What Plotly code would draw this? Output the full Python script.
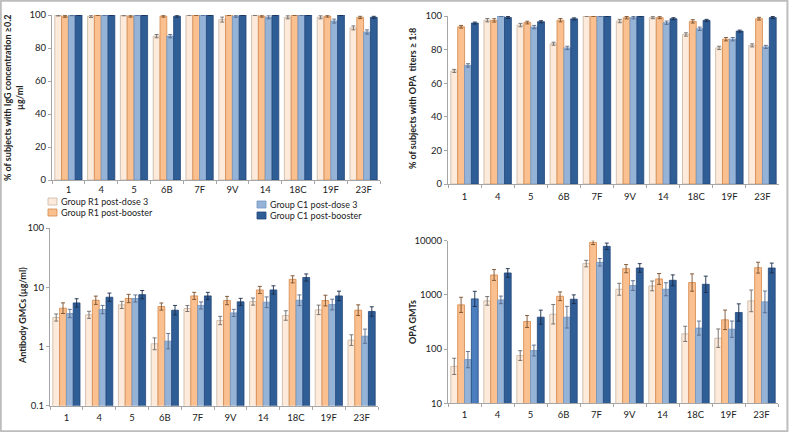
import plotly.graph_objects as go

# ---------------- data ----------------
serotypes = ["1", "4", "5", "6B", "7F", "9V", "14", "18C", "19F", "23F"]
series_names = ["Group R1 post-dose 3", "Group R1 post-booster",
                "Group C1 post-dose 3", "Group C1 post-booster"]

# % subjects with IgG >= 0.2 ug/ml
igg_r1_d3 = [99.7, 99.2, 99.8, 87.2, 100, 97.2, 100, 98.6, 98.6, 92.2]
igg_r1_bo = [99.2, 100, 99.3, 99.3, 100, 100, 99.3, 100, 99.3, 98.5]
igg_c1_d3 = [99.8, 100, 100, 87.2, 100, 99.2, 98.6, 100, 96.3, 89.7]
igg_c1_bo = [100, 100, 100, 99.3, 100, 100, 100, 100, 100, 98.6]
igg_err = [[0.3, 0.7, 0.3, 1.0, 0.2, 1.5, 0.3, 0.9, 0.9, 1.2],
           [0.6, 0.2, 0.6, 0.6, 0.2, 0.2, 0.6, 0.2, 0.6, 0.7],
           [0.2, 0.2, 0.2, 1.0, 0.2, 0.6, 0.9, 0.2, 1.2, 1.3],
           [0.2, 0.2, 0.2, 0.6, 0.2, 0.2, 0.2, 0.2, 0.2, 0.6]]

# % subjects with OPA titers >= 1:8
opa_r1_d3 = [67.3, 97.5, 94.6, 83.5, 100, 97.0, 99.0, 89.0, 81.0, 82.5]
opa_r1_bo = [93.6, 97.4, 96.1, 97.5, 100, 99.0, 99.0, 96.8, 86.2, 98.4]
opa_c1_d3 = [70.6, 100, 93.4, 81.0, 100, 99.0, 96.0, 92.4, 86.2, 81.6]
opa_c1_bo = [95.8, 99.1, 96.6, 98.3, 100, 100, 98.4, 97.4, 91.0, 99.1]
opa_err = [[0.9, 1.0, 1.0, 0.9, 0.2, 1.0, 0.6, 1.0, 1.0, 0.9],
           [0.8, 1.0, 0.8, 1.0, 0.2, 0.7, 0.6, 1.0, 1.0, 0.8],
           [1.0, 0.3, 1.0, 1.0, 0.2, 0.7, 1.0, 1.0, 1.0, 0.9],
           [0.6, 0.6, 0.6, 0.6, 0.2, 0.2, 0.6, 0.6, 0.6, 0.6]]

# Antibody GMCs (ug/ml)
gmc_r1_d3 = [3.08, 3.42, 5.03, 1.11, 4.37, 2.74, 5.73, 3.33, 4.15, 1.28]
gmc_r1_bo = [4.43, 6.03, 6.45, 4.72, 7.14, 5.96, 9.0, 13.6, 5.96, 4.1]
gmc_c1_d3 = [3.6, 4.2, 6.45, 1.23, 4.92, 3.69, 5.58, 6.03, 5.1, 1.49]
gmc_c1_bo = [5.44, 6.78, 7.5, 4.1, 7.14, 5.66, 9.0, 14.6, 7.14, 3.89]
# error half-widths in log10 units
gmc_err = [[0.06, 0.06, 0.06, 0.10, 0.05, 0.07, 0.06, 0.08, 0.08, 0.09],
           [0.09, 0.07, 0.07, 0.06, 0.06, 0.07, 0.06, 0.06, 0.09, 0.09],
           [0.07, 0.07, 0.06, 0.13, 0.06, 0.06, 0.09, 0.09, 0.09, 0.12],
           [0.07, 0.07, 0.07, 0.08, 0.06, 0.06, 0.07, 0.06, 0.08, 0.08]]

# OPA GMTs
gmt_r1_d3 = [48, 776, 76, 440, 3780, 1271, 1465, 191, 159, 776]
gmt_r1_bo = [655, 2330, 323, 945, 9310, 3050, 1970, 1690, 347, 3180]
gmt_c1_d3 = [64, 809, 94, 388, 3990, 1486, 1271, 244, 233, 744]
gmt_c1_bo = [844, 2540, 388, 832, 7870, 3140, 1860, 1570, 473, 3140]
gmt_err = [[0.15, 0.08, 0.09, 0.18, 0.06, 0.11, 0.09, 0.14, 0.17, 0.20],
           [0.14, 0.10, 0.11, 0.08, 0.04, 0.075, 0.10, 0.16, 0.18, 0.10],
           [0.15, 0.07, 0.10, 0.20, 0.07, 0.09, 0.12, 0.13, 0.15, 0.20],
           [0.14, 0.08, 0.13, 0.08, 0.06, 0.08, 0.10, 0.15, 0.16, 0.09]]

gmc_ticks = [0.1, 1, 10, 100]
gmc_ticktext = ["0.1", "1", "10", "100"]
gmt_ticks = [10, 100, 1000, 10000]
gmt_ticktext = ["10", "100", "1000", "10000"]

# ---------------- styling ----------------
fills = ["#FDEADA", "#FAC090", "#95B3D7", "#2F5D95"]
outlines = ["#C8B5A2", "#D4884A", "#7195C2", "#22467A"]
errcols = ["#6F6A66", "#7A4F2A", "#56698A", "#1A2C4A"]
FONT = "Lato, 'Open Sans', sans-serif"
W, H = 789, 432

fig = go.Figure()

panels = [
    ("x", "y", [igg_r1_d3, igg_r1_bo, igg_c1_d3, igg_c1_bo], igg_err, False),
    ("x2", "y2", [opa_r1_d3, opa_r1_bo, opa_c1_d3, opa_c1_bo], opa_err, False),
    ("x3", "y3", [gmc_r1_d3, gmc_r1_bo, gmc_c1_d3, gmc_c1_bo], gmc_err, True),
    ("x4", "y4", [gmt_r1_d3, gmt_r1_bo, gmt_c1_d3, gmt_c1_bo], gmt_err, True),
]

for pi, (xa, ya, vals, errs, is_log) in enumerate(panels):
    for si in range(4):
        v = vals[si]
        e = errs[si]
        if is_log:
            up = [val * (10 ** ee - 1) for val, ee in zip(v, e)]
            dn = [val * (1 - 10 ** (-ee)) for val, ee in zip(v, e)]
        else:
            up = e
            dn = e
        colors = [fills[si]] * len(v)
        if pi == 3 and si == 3:
            colors[0] = "#4A7EBF"
        fig.add_trace(go.Bar(
            x=serotypes, y=v, name=series_names[si],
            xaxis=xa, yaxis=ya,
            marker=dict(color=colors, line=dict(color=outlines[si], width=0.8)),
            error_y=dict(type="data", symmetric=False, array=up, arrayminus=dn,
                         color=errcols[si], thickness=0.9, width=2),
            showlegend=False,
        ))

axis_common = dict(showline=True, linecolor="#A6A6A6", linewidth=1,
                   showgrid=False, zeroline=False, ticks="outside",
                   tickcolor="#A6A6A6", ticklen=3, automargin=False,
                   tickfont=dict(family=FONT, size=9.5, color="#222"))

def px_x(a, b):
    return [a / W, b / W]

def px_y(top, bottom):
    return [1 - bottom / H, 1 - top / H]

layout = dict(
    width=W, height=H, autosize=False,
    margin=dict(l=0, r=0, t=0, b=0, pad=0),
    paper_bgcolor="white", plot_bgcolor="white",
    barmode="group", bargap=0.17, bargroupgap=0.0,
    font=dict(family=FONT, size=9, color="#222"),
    showlegend=False,
    xaxis=dict(domain=px_x(52, 380), anchor="y", tickson="boundaries",
               ticklabelstandoff=1, **axis_common),
    yaxis=dict(domain=px_y(15, 180), anchor="x", range=[0, 100], dtick=20, **axis_common),
    xaxis2=dict(domain=px_x(448, 779), anchor="y2", tickson="boundaries",
                ticklabelstandoff=4, **axis_common),
    yaxis2=dict(domain=px_y(16, 184), anchor="x2", range=[0, 100], dtick=20, **axis_common),
    xaxis3=dict(domain=px_x(50, 378), anchor="y3", tickson="boundaries",
                ticklabelstandoff=3, **axis_common),
    yaxis3=dict(domain=px_y(228, 405.7), anchor="x3", type="log", range=[-1, 2],
                tickvals=gmc_ticks, ticktext=gmc_ticktext, **axis_common),
    xaxis4=dict(domain=px_x(448, 778), anchor="y4", tickson="boundaries",
                ticklabelstandoff=2, **axis_common),
    yaxis4=dict(domain=px_y(240.7, 403.3), anchor="x4", type="log", range=[1, 4],
                tickvals=gmt_ticks, ticktext=gmt_ticktext, **axis_common),
)
fig.update_layout(**layout)

# custom legend (swatch + label), placed like the original
legend_spots = [(48, 201.5), (48, 212.5), (257, 204.5), (257, 215.5)]
for si, (lx, ly) in enumerate(legend_spots):
    fig.add_shape(type="rect", xref="paper", yref="paper",
                  x0=lx / W, x1=(lx + 9) / W, y0=1 - (ly + 3.5) / H, y1=1 - (ly - 3.5) / H,
                  fillcolor=fills[si], line=dict(color=outlines[si], width=0.8))
    fig.add_annotation(text=series_names[si], x=(lx + 11) / W, y=1 - ly / H,
                       xref="paper", yref="paper", showarrow=False,
                       xanchor="left", yanchor="middle",
                       font=dict(family=FONT, size=9, color="#222"))

# axis titles as annotations
titles = [
    ("% of subjects with IgG concentration ≥0.2<br>µg/ml", 13 / W, 1 - 98 / H),
    ("% of subjects with OPA  titers ≥ 1:8", 413 / W, 1 - 99 / H),
    ("Antibody GMCs (µg/ml)", 22 / W, 1 - 316 / H),
    ("OPA GMTs", 412 / W, 1 - 322 / H),
]
for txt, x, y in titles:
    fig.add_annotation(text="<b>" + txt + "</b>", x=x, y=y, xref="paper", yref="paper",
                       showarrow=False, textangle=-90, xanchor="center", yanchor="middle",
                       font=dict(family=FONT, size=9, color="#222"))

# thin frame around the figure
fig.add_shape(type="rect", xref="paper", yref="paper", x0=0.001, y0=0.002, x1=0.998, y1=0.998,
              line=dict(color="#BDBDBD", width=2))

fig.write_html("out.html", config={"displayModeBar": False},
               post_script="document.body.style.margin='0';document.body.style.overflow='hidden';")
